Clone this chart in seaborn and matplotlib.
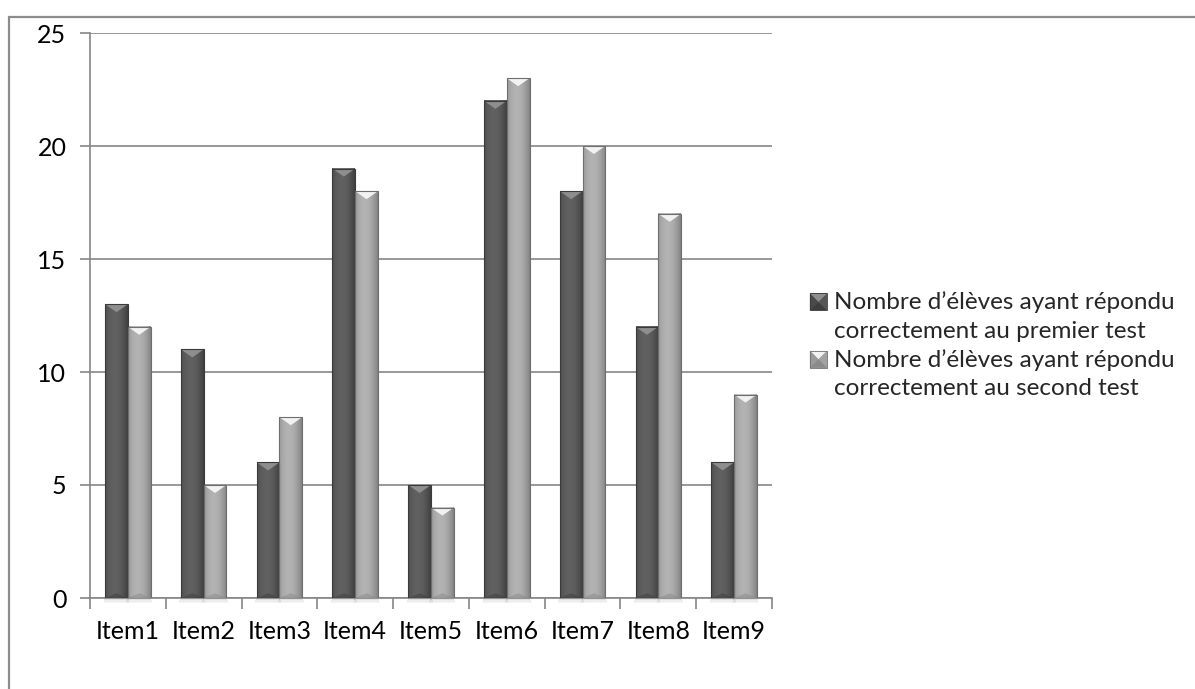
import numpy as np
import pandas as pd
import matplotlib
matplotlib.use("Agg")
import matplotlib.pyplot as plt
from matplotlib.patches import Polygon, Rectangle
from matplotlib.legend_handler import HandlerBase
import seaborn as sns

# Results per item for the two tests
items = ["Item1", "Item2", "Item3", "Item4", "Item5", "Item6", "Item7", "Item8", "Item9"]
premier_test = [13, 11, 6, 19, 5, 22, 18, 12, 6]
second_test = [12, 5, 8, 18, 4, 23, 20, 17, 9]
series_names = [
    "Nombre d\u2019élèves ayant répondu\ncorrectement au premier test",
    "Nombre d\u2019élèves ayant répondu\ncorrectement au second test",
]
y_ticks = [0, 5, 10, 15, 20, 25]

df = pd.DataFrame({
    "item": items * 2,
    "valeur": premier_test + second_test,
    "serie": [series_names[0]] * len(items) + [series_names[1]] * len(items),
})

sns.set_theme(style="white")
plt.rcParams["font.family"] = ["Lato", "DejaVu Sans"]

W, H = 1195, 689
fig = plt.figure(figsize=(W / 100, H / 100), dpi=100)
ax = fig.add_axes([90 / W, (H - 598) / H, 682 / W, 565 / H])

base_colors = {series_names[0]: "#565656", series_names[1]: "#a2a2a2"}
sns.barplot(data=df, x="item", y="valeur", hue="serie", hue_order=series_names,
            order=items, palette=base_colors, width=0.6, gap=0, saturation=1,
            edgecolor="none", linewidth=0, ax=ax, legend=True)

ax.set_xlim(-0.5, len(items) - 0.5)
ax.set_ylim(0, 25)

# Bevelled look on each bar drawn by seaborn
px_y = 25 / 565.0
shade = {
    series_names[0]: dict(lo=0.24, hi=0.38, top="#8e8e8e", side="#4a4a4a",
                          bot="#3e3e3e", edge="#3a3a3a"),
    series_names[1]: dict(lo=0.50, hi=0.70, top="#f2f2f2", side="#9a9a9a",
                          bot="#8a8a8a", edge="#6e6e6e"),
}
bars = [p for p in ax.patches if isinstance(p, Rectangle) and p.get_height() > 0]
for p in bars:
    fc = matplotlib.colors.to_hex(p.get_facecolor())
    key = series_names[0] if fc == base_colors[series_names[0]] else series_names[1]
    s = shade[key]
    x0, w, h = p.get_x(), p.get_width(), p.get_height()
    x1, xc = x0 + w, x0 + w / 2
    t = np.linspace(0, 1, 64)
    prof = s["lo"] + (s["hi"] - s["lo"]) * np.clip(1 - ((t - 0.42) / 0.6) ** 2, 0, 1)
    ax.imshow(prof[None, :], cmap="gray", vmin=0, vmax=1, aspect="auto",
              extent=[x0, x1, 0, h], zorder=2.1, interpolation="bilinear")
    th = 8 * px_y
    ax.add_patch(Polygon([[x0, h], [x1, h], [xc, h - th]], closed=True,
                         facecolor=s["top"], edgecolor="none", zorder=2.2))
    ax.add_patch(Polygon([[x0, 0], [x1, 0], [xc, th * 0.6]], closed=True,
                         facecolor=s["bot"], edgecolor="none", alpha=0.5, zorder=2.2))
    ax.add_patch(Rectangle((x0, 0), w, h, facecolor="none", edgecolor=s["edge"],
                           linewidth=0.8, zorder=2.3))
    # soft shadow under the bar
    for k, a in enumerate([0.18, 0.12, 0.07, 0.04]):
        ax.add_patch(Rectangle((x0 - 0.01 * k, -(k + 1) * 1.2 * px_y), w + 0.02 * k,
                               1.2 * px_y, facecolor="#000000", alpha=a,
                               edgecolor="none", clip_on=False, zorder=1.5))

ax.set_xlim(-0.5, len(items) - 0.5)
ax.set_ylim(0, 25)

# Axes styling
grid_c = "#868686"
ax.set_yticks(y_ticks)
ax.yaxis.grid(True, color=grid_c, linewidth=1.2)
ax.set_axisbelow(True)
for side in ["top", "right"]:
    ax.spines[side].set_visible(False)
for side in ["left", "bottom"]:
    ax.spines[side].set_color(grid_c)
    ax.spines[side].set_linewidth(1.2)
    ax.spines[side].set_zorder(1.6)
ax.set_xticks(np.arange(-0.5, len(items), 1), minor=True)
ax.tick_params(axis="x", which="major", length=0, labelsize=18, pad=16, colors="black")
ax.tick_params(axis="x", which="minor", length=8, width=1.2, color=grid_c, direction="out",
               bottom=True)
ax.tick_params(axis="y", length=7, width=1.2, color=grid_c, direction="out", left=True,
               labelsize=18, pad=10, colors="black")
ax.set_xlabel("")
ax.set_ylabel("")

LEG_FS = 17.5
LEG_LS = 1.42


class BevelSquare(HandlerBase):
    """Legend key drawn as a small bevelled square, level with the first text line."""

    def create_artists(self, legend, orig_handle, xdescent, ydescent, width, height,
                       fontsize, trans):
        fc = matplotlib.colors.to_hex(orig_handle.get_facecolor())
        key = series_names[0] if fc == base_colors[series_names[0]] else series_names[1]
        s = shade[key]
        size = min(width, height)
        x0 = -xdescent
        y0 = -ydescent + (height - size) / 2 + 0.6 * fontsize
        x1, y1 = x0 + size, y0 + size
        xc, yc = (x0 + x1) / 2, (y0 + y1) / 2
        arts = [Rectangle((x0, y0), size, size, facecolor=fc, edgecolor="none",
                          transform=trans)]
        arts.append(Polygon([[x0, y1], [x1, y1], [xc, yc]], facecolor=s["top"],
                            edgecolor="none", transform=trans))
        arts.append(Polygon([[x0, y0], [x1, y0], [xc, yc]], facecolor=s["bot"],
                            edgecolor="none", transform=trans))
        arts.append(Polygon([[x0, y0], [x0, y1], [xc, yc]], facecolor=s["side"],
                            edgecolor="none", transform=trans))
        arts.append(Rectangle((x0, y0), size, size, facecolor="none",
                              edgecolor=s["edge"], linewidth=0.6, transform=trans))
        return arts


# Legend
handles, labels = ax.get_legend_handles_labels()
ax.legend(handles, labels, loc="center left", bbox_to_anchor=(788 / W, 0.499),
          bbox_transform=fig.transFigure, frameon=False, fontsize=LEG_FS,
          handlelength=0.7, handleheight=0.7, handletextpad=0.3,
          labelspacing=0.3, handler_map={h: BevelSquare() for h in handles})
for txt in ax.get_legend().get_texts():
    txt.set_linespacing(LEG_LS)

# Chart frame
fig.add_artist(Rectangle((9 / W, -0.1), 1.2, 1 - 17 / H + 0.1, transform=fig.transFigure,
                         facecolor="none", edgecolor="#8c8c8c", linewidth=1.6))

fig.savefig("out.png", dpi=100)
